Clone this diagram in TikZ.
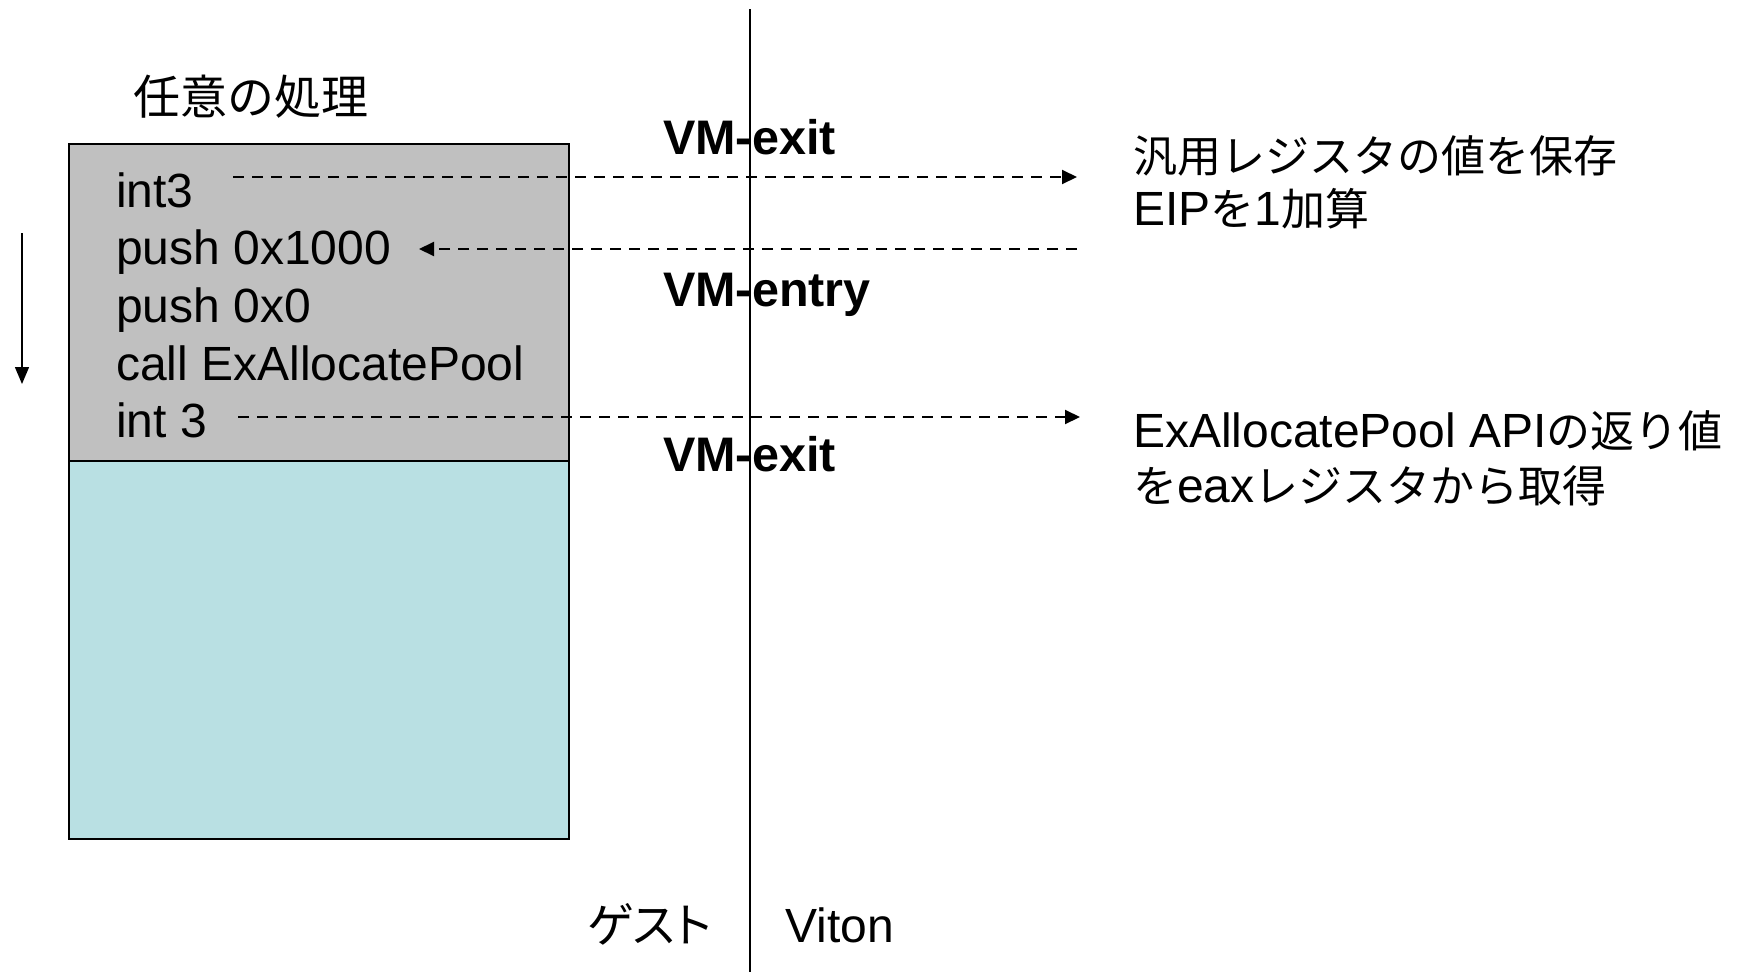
\documentclass[tikz,border=0pt]{standalone}
\usepackage{fontspec}
\setmainfont{Liberation Sans}
\newfontfamily\jp{Noto Sans CJK JP}
\newfontfamily\jpp[RawFeature=+palt]{Noto Sans CJK JP}
\newcommand{\jr}{\fontsize{44}{56}\selectfont\jp}
\usetikzlibrary{arrows.meta}
\definecolor{boxgray}{RGB}{192,192,192}
\definecolor{boxblue}{RGB}{185,224,227}
\begin{document}
\begin{tikzpicture}[x=1pt,y=-1pt,
  txt/.style={font=\fontsize{48}{56}\selectfont, inner sep=0pt, anchor=base west},
  bold/.style={font=\fontsize{48.5}{56}\selectfont\bfseries, inner sep=0pt, anchor=base west},
  frame/.style={line width=2pt},
  dashedarrow/.style={dashed, dash pattern=on 11pt off 8pt, line width=2pt, -{Triangle[length=15pt,width=14pt]}},
  dashedline/.style={dashed, dash pattern=on 11pt off 8pt, line width=2pt}]
\path[use as bounding box] (0,0) rectangle (1738,972);
% boxes
\draw[frame, fill=boxgray] (69,144) rectangle (569,461);
\draw[frame, fill=boxblue] (69,461) rectangle (569,839);
% divider
\coordinate (vtop) at (750,9);
\coordinate (vbot) at (750,972);
\draw[frame] (vtop) -- (vbot);
% title
\node[txt] (title) at (133,114) {\fontsize{47}{56}\selectfont\jp 任意の処理};
% code lines
\node[txt] (c1) at (116,207) {int3};
\node[txt] (c2) at (116,264.6) {push 0x1000};
\node[txt] (c3) at (116,322) {push 0x0};
\node[txt] (c4) at (116,380) {call ExAllocatePool};
\node[txt] (c5) at (116,437.5) {int 3};
% flow arrow
\coordinate (fs) at (22,233);
\coordinate (fe) at (22,384);
\draw[line width=1.5pt, -{Triangle[length=17pt,width=14pt]}] (fs) -- (fe);
% VM labels
\node[bold] (vx1) at (663,154) {VM-exit};
\node[bold] (ven) at (663,306) {VM-entry};
\node[bold] (vx2) at (663,471) {VM-exit};
% right texts
\node[txt] (r1) at (1133,172) {\jr 汎用レジスタの値を保存};
\node[txt] (r2) at (1133,225) {EIP{\jr を}1{\jr 加算}};
\node[txt] (r3) at (1133,447) {ExAllocatePool API{\jr の返り値}};
\node[txt] (r4) at (1133,502) {{\jr を}eax{\jr レジスタから取得}};
% bottom labels
\node[txt] (guest) at (587,942) {\fontsize{47}{56}\selectfont\jpp ゲスト};
\node[txt] (viton) at (785,942) {Viton};
% dashed arrows
\coordinate (a1s) at (233,177);
\coordinate (a1e) at (1077,177);
\draw[dashedarrow] (a1s) -- (a1e);
\coordinate (a2s) at (1077,249);
\coordinate (a2e) at (419,249);
\draw[dashedarrow] (a2s) -- (a2e);
\coordinate (a3s) at (238,417);
\coordinate (a3e) at (1080,417);
\draw[dashedarrow] (a3s) -- (a3e);
\end{tikzpicture}
\end{document}
